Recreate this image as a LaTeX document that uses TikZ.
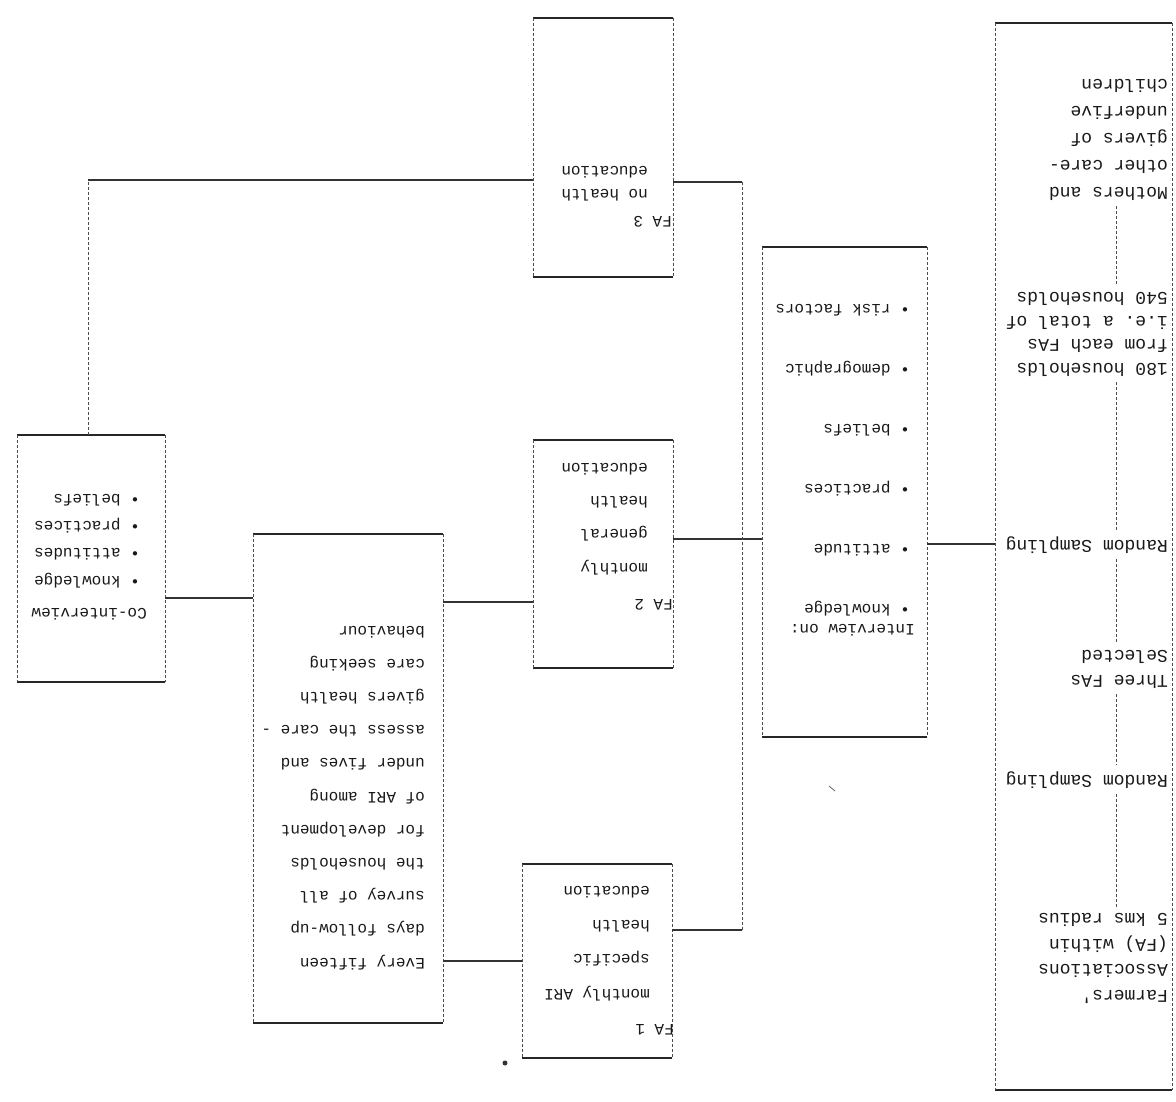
\documentclass[tikz,border=0pt]{standalone}
\usepackage{fontspec}
\setmonofont{Liberation Mono}
\newcommand{\tblk}[6]{\foreach \tx [count=\ii] in {#6} {\node[#2] (#1\ii) at (#3,{#4-(\ii-1)*#5}) {\tx};}}
\newcommand{\frm}[1]{%
  \draw[edgeh] (#1.north west) -- (#1.north east);
  \draw[edgeh] (#1.south west) -- (#1.south east);
  \draw[vl] (#1.north west) -- (#1.south west);
  \draw[vl] (#1.north east) -- (#1.south east);}
\begin{document}
\begin{tikzpicture}[x=1pt,y=-1pt,
  hl/.style={draw=black!80,line width=1.4pt},
  vl/.style={draw=black!70,line width=0.9pt,dash pattern=on 3pt off 2pt},
  edgeh/.style={draw=black!85,line width=2pt},
  boxn/.style={inner sep=0pt,outer sep=0pt},
  txt/.style={font=\ttfamily\fontsize{16}{16}\selectfont,text=black!90,rotate=180,inner sep=0pt,anchor=base west},
  bigtxt/.style={txt,font=\ttfamily\fontsize{18}{18}\selectfont}]
\useasboundingbox (0,0) rectangle (1176,1101);

% boxes
\node[boxn,minimum width=177pt,minimum height=1067pt] (src) at (1083.5,556.5) {};
\node[boxn,minimum width=165pt,minimum height=490pt] (intv) at (844.5,492) {};
\node[boxn,minimum width=140pt,minimum height=259pt] (fa3) at (603,147.5) {};
\node[boxn,minimum width=140pt,minimum height=228pt] (fa2) at (603,554) {};
\node[boxn,minimum width=150pt,minimum height=194pt] (fa1) at (597,961) {};
\node[boxn,minimum width=190pt,minimum height=489pt] (fol) at (348,778.5) {};
\node[boxn,minimum width=148pt,minimum height=247pt] (coi) at (91,558.5) {};
\frm{src}\frm{intv}\frm{fa3}\frm{fa2}\frm{fa1}\frm{fol}\frm{coi}

% big source box texts
\tblk{bF}{bigtxt}{1168}{187}{27}{{Mothers and},{other care-},{givers of},{underfive},{children}}
\tblk{bE}{bigtxt}{1168}{363}{23.5}{{180 households},{from each FAs},{i.e. a total of},{540 households}}
\node[bigtxt] (bD) at (1168,540) {Random Sampling};
\tblk{bC}{bigtxt}{1168}{675}{25}{{Three FAs},{Selected}}
\node[bigtxt] (bB) at (1168,775) {Random Sampling};
\tblk{bA}{bigtxt}{1168}{990}{25.5}{{Farmers'},{Associations},{(FA) within},{5 kms radius}}
\coordinate (vx) at (1116,0);
\draw[vl,shorten <=6pt,shorten >=6pt] (bF1.north -| vx) -- (bE4.south -| vx);
\draw[vl,shorten <=6pt,shorten >=6pt] (bE1.north -| vx) -- (bD.south -| vx);
\draw[vl,shorten <=6pt,shorten >=6pt] (bD.north -| vx) -- (bC2.south -| vx);
\draw[vl,shorten <=6pt,shorten >=6pt] (bC1.north -| vx) -- (bB.south -| vx);
\draw[vl,shorten <=6pt,shorten >=6pt] (bB.north -| vx) -- (bA4.south -| vx);

% interview box
\node[txt] (i0) at (915,624) {Interview on:};
\tblk{ib}{txt}{910}{604}{60}{{• knowledge},{• attitude},{• practices},{• beliefs},{• demographic},{• risk factors}}

% FA boxes
\node[txt] (f3h) at (672,216) {FA 3};
\tblk{f3b}{txt}{648}{189}{23}{{no health},{education}}
\node[txt] (f2h) at (673,599) {FA 2};
\tblk{f2b}{txt}{648}{563}{33.3}{{monthly},{general},{health},{education}}
\node[txt] (f1h) at (674,1024) {FA 1};
\tblk{f1b}{txt}{650}{989}{34.3}{{monthly ARI},{specific},{health},{education}}

% follow-up box
\tblk{fl}{txt}{425}{958}{33.2}{{Every fifteen},{days follow-up},{survey of all},{the households},{for development},{of ARI among},{under fives and},{assess the care -},{givers health},{care seeking},{behaviour}}

% co-interview box
\node[txt] (c0) at (147,608) {Co-interview};
\tblk{cb}{txt}{140}{576}{27.3}{{• knowledge},{• attitudes},{• practices},{• beliefs}}

% connectors
\coordinate (lvCF) at (0,598);
\coordinate (lvFF) at (0,602);
\coordinate (lvFI) at (0,539);
\coordinate (lvIS) at (0,544);
\coordinate (busT) at (742,182);
\coordinate (busB) at (742,930);
\coordinate (topL) at (88,180);
\draw[hl] (coi.east |- lvCF) -- (fol.west |- lvCF);
\draw[hl] (fol.east |- lvFF) -- (fa2.west |- lvFF);
\draw[hl] (fol.east |- fa1.west) -- (fa1.west);
\draw[hl] (fa2.east |- lvFI) -- (intv.west |- lvFI);
\draw[hl] (intv.east |- lvIS) -- (src.west |- lvIS);
\draw[hl] (fa3.east |- busT) -- (busT);
\draw[vl] (busT) -- (busB);
\draw[hl] (busB) -- (fa1.east |- busB);
\draw[vl] (coi.north -| topL) -- (topL);
\draw[hl] (topL) -- (fa3.west |- topL);

% stray printer specks
\fill[black!80] (505,1063) circle (2.5pt);
\draw[black!60,line width=0.8pt] (829,786) -- (835,791);
\end{tikzpicture}
\end{document}
